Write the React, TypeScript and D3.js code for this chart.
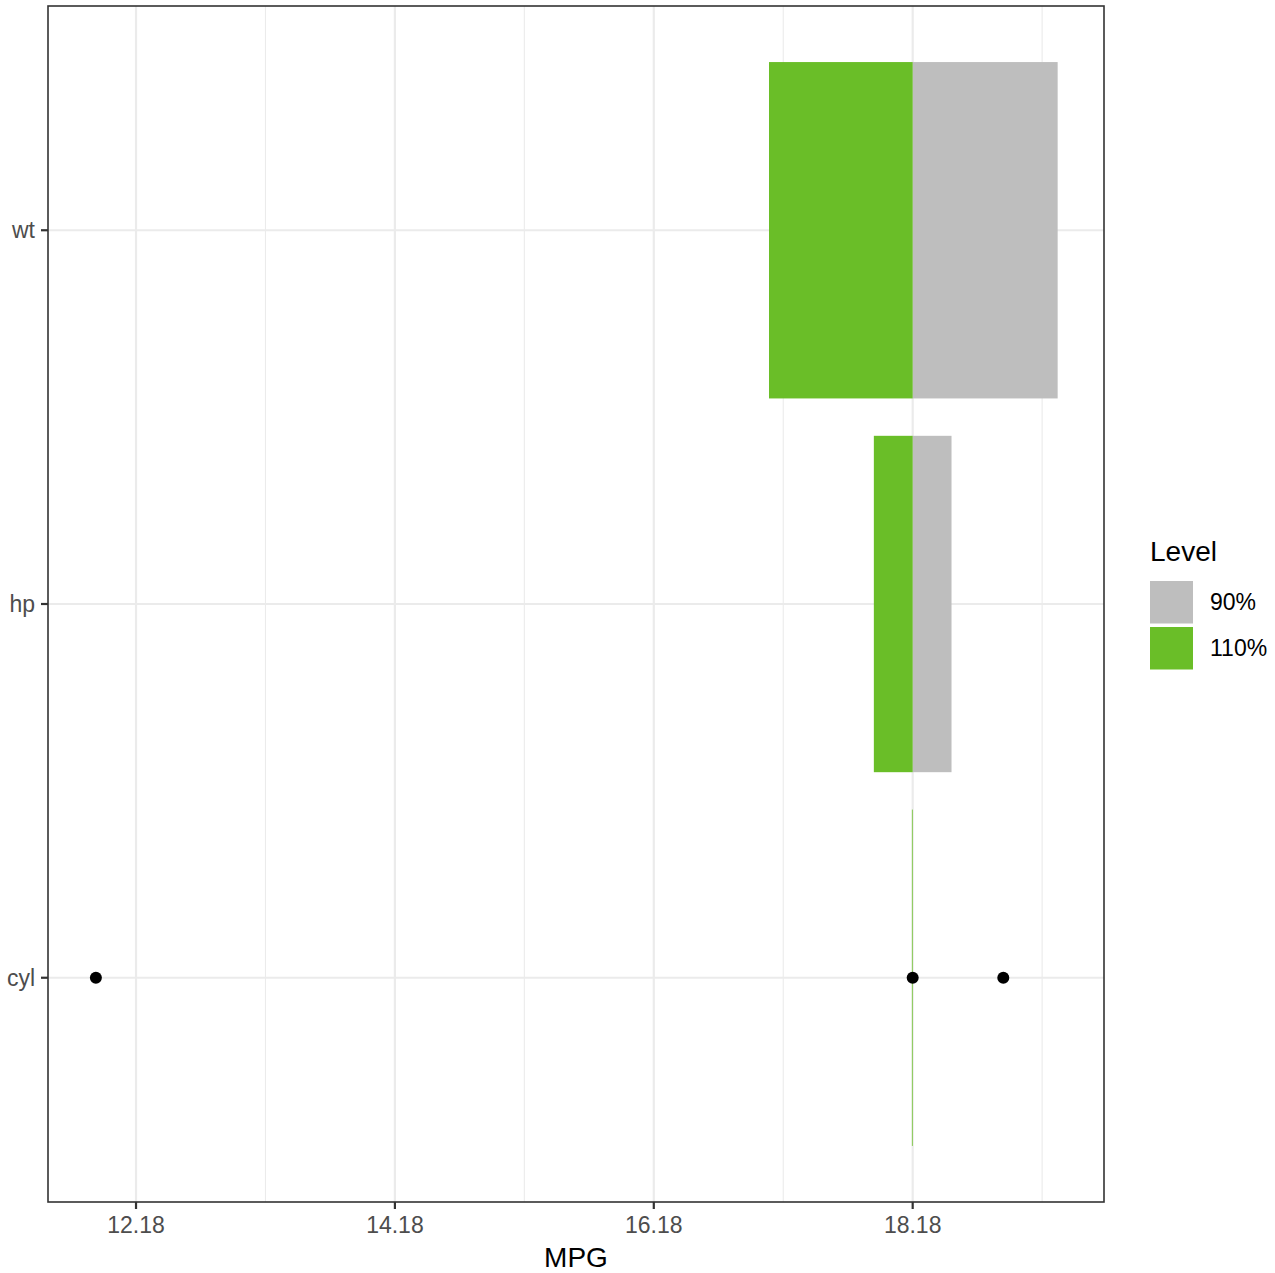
import React, { useEffect, useRef } from "react";
import * as d3 from "d3";

const categories = ["cyl", "hp", "wt"];
const baseline = 18.18;
const low110 = [18.174, 17.88, 17.07];
const high90 = [18.18, 18.48, 19.3];
const pointCategory = ["cyl", "cyl", "cyl"];
const pointValues = [11.87, 18.18, 18.88];
const majorTicks = [12.18, 14.18, 16.18, 18.18];
const minorTicks = [13.18, 15.18, 17.18, 19.18];
const tickLabels = ["12.18", "14.18", "16.18", "18.18"];
const levels = ["90%", "110%"];
const levelColors = ["#BEBEBE", "#6ABE28"];

const W = 1275;
const H = 1273;
const panel = { left: 48, right: 1104, top: 6, bottom: 1202 };
const FONT = "'Liberation Sans', Arial, Helvetica, sans-serif";

export default function App() {
  const ref = useRef<SVGSVGElement | null>(null);

  useEffect(() => {
    document.body.style.margin = "0";
    const svg = d3.select(ref.current);
    svg.selectAll("*").remove();

    const x = d3.scaleLinear().domain([11.5, 19.658]).range([panel.left, panel.right]);
    const yIdx = d3.scaleLinear().domain([0.4, 3.6]).range([panel.bottom, panel.top]);
    const yOf = (c: string) => yIdx(categories.indexOf(c) + 1);
    const halfH = (yIdx(0) - yIdx(0.45));

    svg.append("rect").attr("x", 0).attr("y", 0).attr("width", W).attr("height", H).attr("fill", "white");

    const g = svg.append("g");
    // minor grid
    g.selectAll(".minor").data(minorTicks).enter().append("line")
      .attr("x1", (d) => x(d)).attr("x2", (d) => x(d))
      .attr("y1", panel.top).attr("y2", panel.bottom)
      .attr("stroke", "#EBEBEB").attr("stroke-width", 1.1);
    // major grid
    g.selectAll(".major").data(majorTicks).enter().append("line")
      .attr("x1", (d) => x(d)).attr("x2", (d) => x(d))
      .attr("y1", panel.top).attr("y2", panel.bottom)
      .attr("stroke", "#EBEBEB").attr("stroke-width", 2.2);
    g.selectAll(".hmajor").data(categories).enter().append("line")
      .attr("x1", panel.left).attr("x2", panel.right)
      .attr("y1", (d) => yOf(d)).attr("y2", (d) => yOf(d))
      .attr("stroke", "#EBEBEB").attr("stroke-width", 2.2);

    // bars: 90% (gray) from baseline to high, 110% (green) from low to baseline
    categories.forEach((c, i) => {
      const yc = yOf(c);
      const gx0 = Math.min(x(baseline), x(high90[i]));
      const gx1 = Math.max(x(baseline), x(high90[i]));
      g.append("rect").attr("x", gx0).attr("y", yc - halfH)
        .attr("width", gx1 - gx0).attr("height", 2 * halfH).attr("fill", levelColors[0]);
      const lx0 = Math.min(x(baseline), x(low110[i]));
      const lx1 = Math.max(x(baseline), x(low110[i]));
      g.append("rect").attr("x", lx0).attr("y", yc - halfH)
        .attr("width", lx1 - lx0).attr("height", 2 * halfH).attr("fill", levelColors[1]);
    });

    // points
    g.selectAll(".pt").data(pointValues).enter().append("circle")
      .attr("cx", (d) => x(d)).attr("cy", (_d, i) => yOf(pointCategory[i]))
      .attr("r", 6).attr("fill", "black");

    // panel border
    svg.append("rect").attr("x", panel.left).attr("y", panel.top)
      .attr("width", panel.right - panel.left).attr("height", panel.bottom - panel.top)
      .attr("fill", "none").attr("stroke", "#333333").attr("stroke-width", 1.6);

    // x axis ticks
    majorTicks.forEach((t, i) => {
      svg.append("line").attr("x1", x(t)).attr("x2", x(t))
        .attr("y1", panel.bottom).attr("y2", panel.bottom + 7)
        .attr("stroke", "#333333").attr("stroke-width", 2.2);
      svg.append("text").attr("x", x(t)).attr("y", panel.bottom + 31)
        .attr("text-anchor", "middle").attr("font-family", FONT).attr("font-size", 23)
        .attr("fill", "#4D4D4D").text(tickLabels[i]);
    });
    // y axis ticks
    categories.forEach((c) => {
      svg.append("line").attr("x1", panel.left - 7).attr("x2", panel.left)
        .attr("y1", yOf(c)).attr("y2", yOf(c))
        .attr("stroke", "#333333").attr("stroke-width", 2.2);
      svg.append("text").attr("x", panel.left - 13).attr("y", yOf(c))
        .attr("dy", "0.35em")
        .attr("text-anchor", "end").attr("font-family", FONT).attr("font-size", 23)
        .attr("fill", "#4D4D4D").text(c);
    });

    // axis title
    svg.append("text").attr("x", (panel.left + panel.right) / 2).attr("y", 1267)
      .attr("text-anchor", "middle").attr("font-family", FONT).attr("font-size", 28)
      .attr("fill", "black").text("MPG");

    // legend
    svg.append("text").attr("x", 1150).attr("y", 561)
      .attr("font-family", FONT).attr("font-size", 28).attr("fill", "black").text("Level");
    levels.forEach((lv, i) => {
      const ky = 581 + i * 46;
      svg.append("rect").attr("x", 1150).attr("y", ky).attr("width", 43).attr("height", 42.5)
        .attr("fill", levelColors[i]);
      svg.append("text").attr("x", 1210).attr("y", ky + 21).attr("dy", "0.35em")
        .attr("font-family", FONT).attr("font-size", 23).attr("fill", "black").text(lv);
    });
  }, []);

  return <svg ref={ref} width={W} height={H} style={{ display: "block" }} />;
}
